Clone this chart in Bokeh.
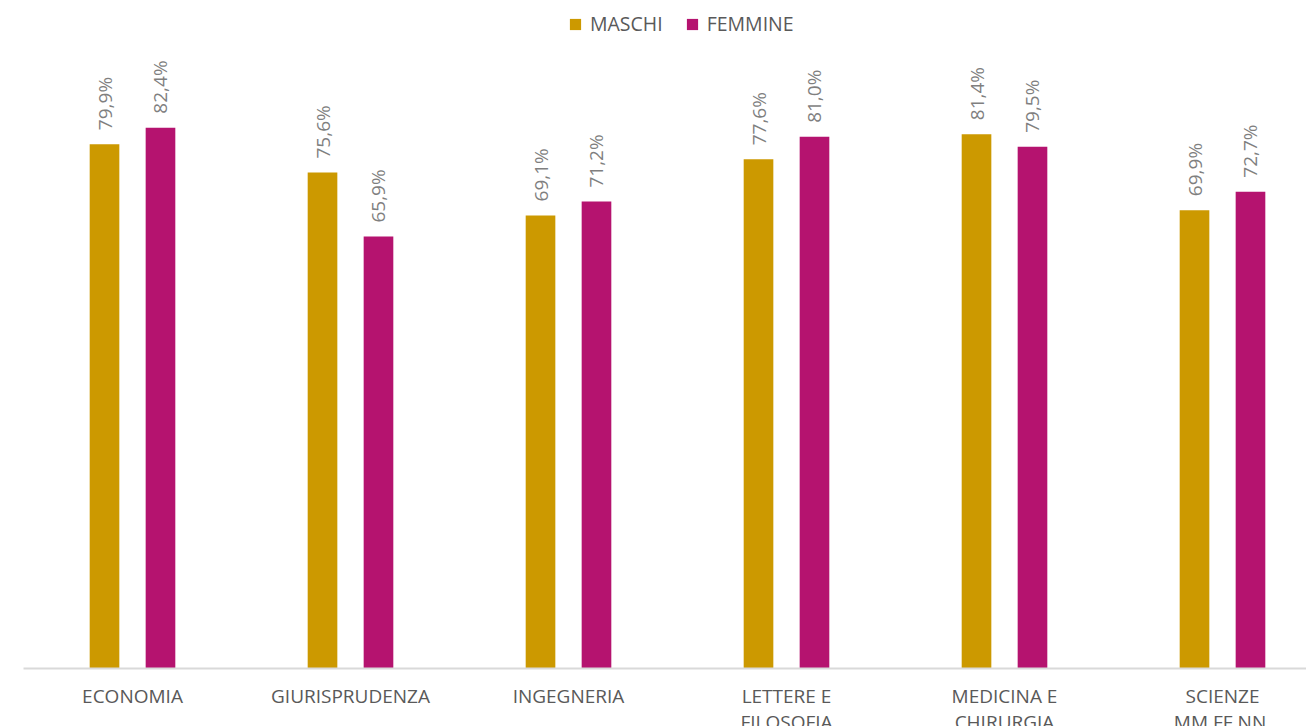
import math
from bokeh.plotting import figure
from bokeh.models import ColumnDataSource, FixedTicker, Legend, LegendItem
from bokeh.core.properties import value
from bokeh.embed import file_html
from bokeh.resources import INLINE

categories = ["ECONOMIA", "GIURISPRUDENZA", "INGEGNERIA", "LETTERE E\nFILOSOFIA",
              "MEDICINA E\nCHIRURGIA", "SCIENZE\nMM.FF.NN."]
maschi = [79.9, 75.6, 69.1, 77.6, 81.4, 69.9]
femmine = [82.4, 65.9, 71.2, 81.0, 79.5, 72.7]
series_names = ["MASCHI", "FEMMINE"]
colors = ["#CC9900", "#B5136F"]

def fmt(v):
    return f"{v:.1f}".replace(".", ",") + "%"

idx = list(range(len(categories)))
off = 0.1284
bw = 0.136

src_m = ColumnDataSource(dict(x=[i - off for i in idx], y=maschi, lab=[fmt(v) for v in maschi]))
src_f = ColumnDataSource(dict(x=[i + off for i in idx], y=femmine, lab=[fmt(v) for v in femmine]))

FONT = "Open Sans"

p = figure(frame_width=1283, frame_height=660,
           x_range=(-0.5, -0.5 + 1283 / 218.0), y_range=(0.45, 100.45),
           output_backend="svg", toolbar_location=None,
           min_border_left=23, min_border_right=0, min_border_top=8, min_border_bottom=0)
p.outline_line_color = None
p.grid.visible = False
p.yaxis.visible = False

r_m = p.vbar(x="x", top="y", bottom=0, width=bw, source=src_m, color=colors[0], line_color=None)
r_f = p.vbar(x="x", top="y", bottom=0, width=bw, source=src_f, color=colors[1], line_color=None)

for s in (src_m, src_f):
    p.text(x="x", y="y", text="lab", source=s, angle=math.pi / 2,
           text_align="left", text_baseline="middle", y_offset=-14,
           text_font=value(FONT), text_font_size="19px", text_color="#7f7f7f")

xa = p.xaxis[0]
xa.ticker = FixedTicker(ticks=idx)
xa.major_label_overrides = {i: c for i, c in zip(idx, categories)}
xa.major_tick_line_color = None
xa.minor_tick_line_color = None
xa.axis_line_color = "#d9d9d9"
xa.axis_line_width = 2
xa.major_label_standoff = 8
xa.major_label_text_font = FONT
xa.major_label_text_font_size = "19px"
xa.major_label_text_line_height = 1.0
xa.major_label_text_color = "#595959"

legend = Legend(items=[LegendItem(label=series_names[0], renderers=[r_m]),
                       LegendItem(label=series_names[1], renderers=[r_f])],
                orientation="horizontal", location=(545, 631),
                glyph_width=14, glyph_height=14, label_standoff=8, spacing=22,
                padding=0, margin=0, border_line_color=None, background_fill_alpha=0,
                label_text_font=FONT, label_text_font_size="19.5px", label_text_color="#595959")
p.add_layout(legend)

open("out.html", "w").write(file_html(p, INLINE))
